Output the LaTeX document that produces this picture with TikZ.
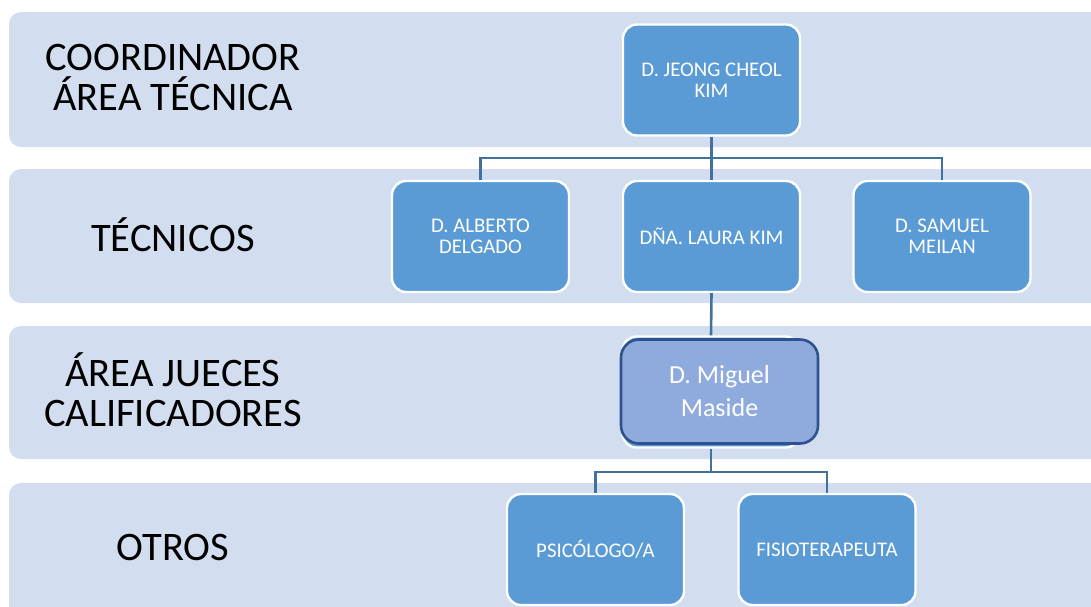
\documentclass[tikz,border=0pt]{standalone}
\usepackage{fontspec}
\setmainfont{Carlito}
\definecolor{bandc}{HTML}{D2DEEF}
\definecolor{boxc}{HTML}{5B9BD5}
\definecolor{linec}{HTML}{41719C}
\definecolor{mfill}{HTML}{8FAADC}
\definecolor{mborder}{HTML}{2F528F}
\begin{document}
\begin{tikzpicture}[x=1pt,y=-1pt,
  band/.style={fill=bandc,draw=none,rounded corners=12pt},
  lbl/.style={font=\fontsize{40.5}{40}\selectfont,align=center,text=black,inner sep=0pt},
  person/.style={rectangle,rounded corners=14pt,draw=white,line width=2.4pt,fill=boxc,
    minimum width=177pt,minimum height=111pt,inner sep=0pt,align=center,text=white,
    font=\fontsize{20.8}{21}\selectfont},
  main/.style={rectangle,rounded corners=18pt,draw=mborder,line width=2.6pt,fill=mfill,
    minimum width=197pt,minimum height=104pt,inner sep=0pt,align=center,text=white,
    font=\fontsize{26}{33}\selectfont},
  conn/.style={draw=linec,line width=2.6pt}]
\useasboundingbox (0,0) rectangle (1091,606);
\clip (0,0) rectangle (1091,606);
% bands
\path[band] (9,12) rectangle (1120,147);
\path[band] (9,169) rectangle (1120,303);
\path[band] (9,326) rectangle (1120,459);
\path[band] (9,483) rectangle (1120,630);
% labels
\node[lbl] (l1) at (173,77) {COORDINADOR\\ÁREA TÉCNICA};
\node[lbl] (l2) at (173,235) {TÉCNICOS};
\node[lbl] (l3) at (173,390) {ÁREA JUECES\\CALIFICADORES};
\node[lbl] (l4) at (173,547) {OTROS};
% boxes
\node[person] (jeong) at (711.5,80) {D. JEONG CHEOL\\KIM};
\node[person] (alberto) at (480.5,236.5) {D. ALBERTO\\DELGADO};
\node[person] (laura) at (711.5,236.5) {DÑA. LAURA KIM};
\node[person] (samuel) at (942,236.5) {D. SAMUEL\\MEILAN};
\node[person] (ghost) at (711,392) {};
\node[main] (miguel) at (719.5,391.5) {D. Miguel\\Maside};
\node[person] (psico) at (595.5,549.5) {PSICÓLOGO/A};
\node[person] (fisio) at (827,549.5) {FISIOTERAPEUTA};
% connectors
\coordinate (bus1) at (0,158);
\coordinate (bus2) at (0,472);
\draw[conn] (jeong.south) -- (laura.north);
\draw[conn] (alberto.north) -- (alberto.north |- bus1) -- (samuel.north |- bus1) -- (samuel.north);
\draw[conn] (laura.south) -- (ghost.north);
\draw[conn] (ghost.south) -- (ghost.south |- bus2);
\draw[conn] (psico.north) -- (psico.north |- bus2) -- (fisio.north |- bus2) -- (fisio.north);
\end{tikzpicture}
\end{document}
